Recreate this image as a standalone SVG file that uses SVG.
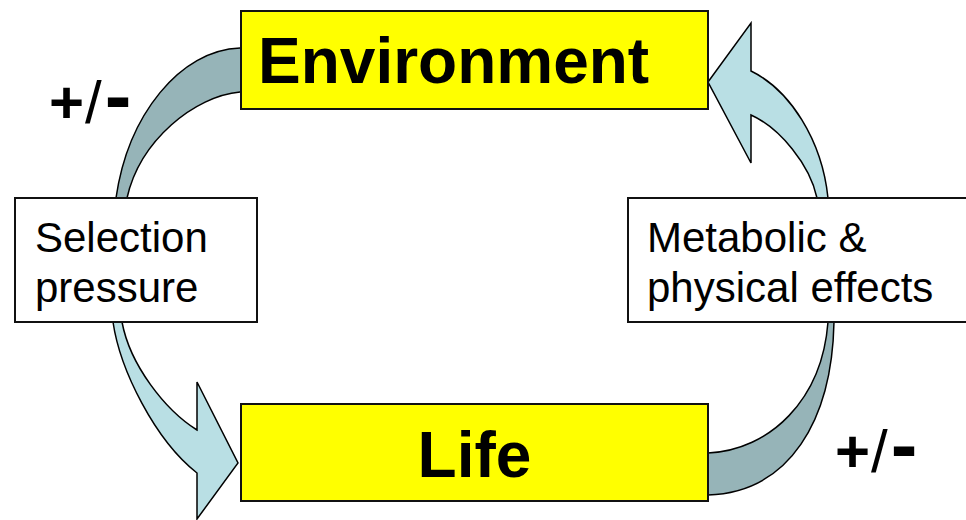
<svg xmlns="http://www.w3.org/2000/svg" width="966" height="520" viewBox="0 0 966 520">
  <style>
    .dark { fill: #96B4B8; stroke: #000; stroke-width: 1.5; stroke-linejoin: miter; }
    .light { fill: #B9DFE4; stroke: #000; stroke-width: 1.5; stroke-linejoin: miter; }
    .ybox { fill: #FFFF00; stroke: #111; stroke-width: 2; }
    .wbox { fill: #FFFFFF; stroke: #111; stroke-width: 2; }
    .big { font-family: "Liberation Sans", Arial, sans-serif; font-weight: bold; font-size: 64px; fill: #000; }
    .lbl { font-family: "Liberation Sans", Arial, sans-serif; font-size: 42px; fill: #000; }
    .pm { font-family: "Liberation Sans", Arial, sans-serif; font-weight: bold; font-size: 60px; fill: #000; }
    .sl { font-weight: normal; }
    .mn { font-size: 80px; }
  </style>
  <rect width="966" height="520" fill="#FFFFFF"/>
  <g id="connectors">
    <path class="dark" d="M 250,48 L 240,48 C 180,50 128,115 116,198 L 114,215 L 125,215 L 127,198 C 140,140 195,96 240,92 L 250,92 Z"/>
    <path class="light" d="M 112,305 L 113,322 C 120,370 155,440 197,473 L 197,519 L 238,463 L 197,382 L 197,430 C 165,410 130,365 122,322 L 121,305 Z"/>
    <path class="light" d="M 708,82 L 751,23 L 751,71 C 790,90 822,140 828,198 L 829,210 L 818,210 L 817,198 C 810,165 780,128 751,115 L 751,163 Z"/>
    <path class="dark" d="M 829,310 L 828,322 C 822,400 770,450 708,453 L 700,453 L 700,495 L 708,495 C 790,492 832,420 834,322 L 835,310 Z"/>
    <text class="pm" x="49" y="123">+<tspan class="sl" dx="1">/</tspan><tspan class="mn" dx="3">-</tspan></text>
    <text class="pm" x="835" y="472">+<tspan class="sl" dx="1">/</tspan><tspan class="mn" dx="3">-</tspan></text>
  </g>
  <g id="environment">
    <rect class="ybox" x="241" y="11" width="467" height="98"/>
    <text class="big" x="258" y="83">Environment</text>
  </g>
  <g id="life">
    <rect class="ybox" x="241" y="404" width="467" height="97"/>
    <text class="big" x="474.5" y="477" text-anchor="middle">Life</text>
  </g>
  <g id="selection">
    <rect class="wbox" x="15" y="198" width="242" height="124"/>
    <text class="lbl" x="35" y="252">Selection</text>
    <text class="lbl" x="35" y="302">pressure</text>
  </g>
  <g id="metabolic">
    <rect class="wbox" x="628" y="198" width="345" height="124"/>
    <text class="lbl" x="647" y="252">Metabolic &amp;</text>
    <text class="lbl" x="647" y="302">physical effects</text>
  </g>
</svg>
